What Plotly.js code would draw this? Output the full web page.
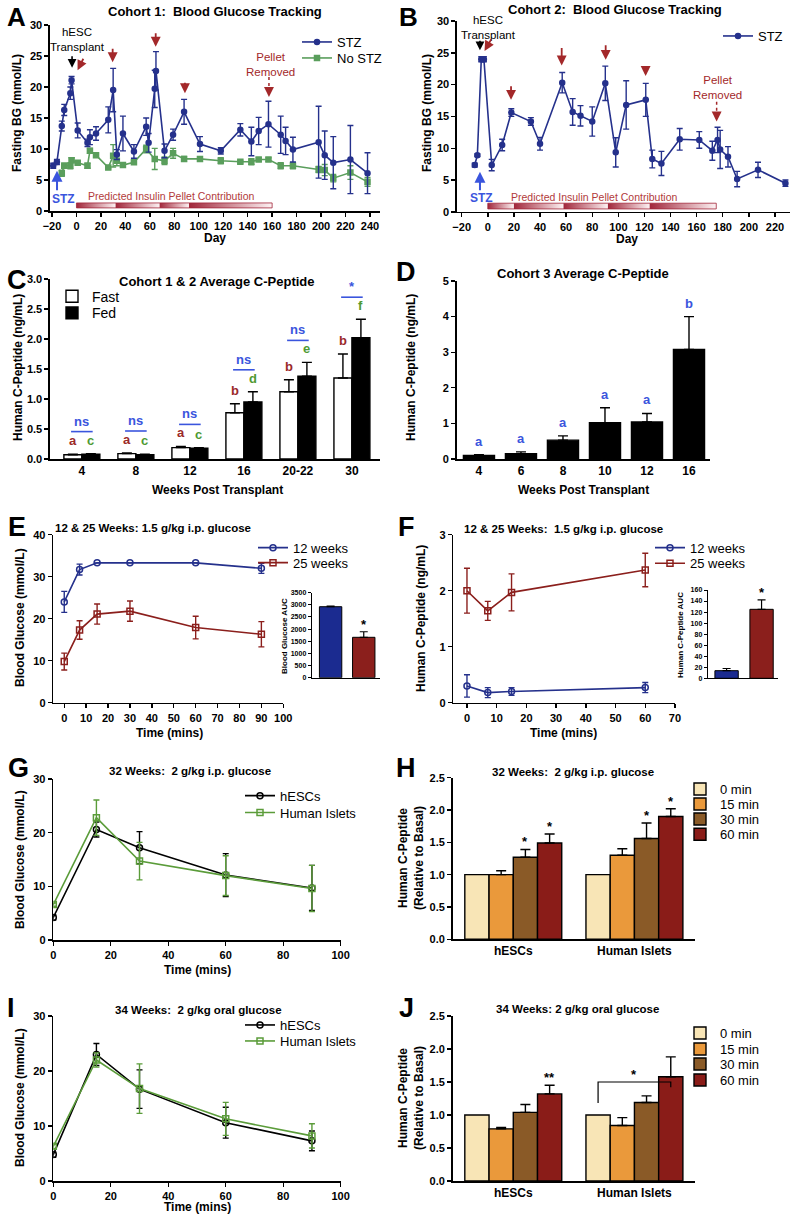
<!DOCTYPE html>
<html><head><meta charset="utf-8">
<script src="https://cdn.plot.ly/plotly-3.0.1.min.js"></script>
<style>html,body{margin:0;padding:0;background:#fff}#chart{width:794px;height:1215px}</style>
</head><body><div id="chart"></div>
<script>
// ===================== DATA =====================
// Panel A – Cohort 1
const dayA_stz = [-19,-16,-12,-10,-5,-4,1,9,11,16,26,30,33,38,47,57,59,64,65,72,79,88,101,118,134,143,149,157,167,171,177,198,203,210,224,238];
const bgA_stz  = [7.3,7.9,13.7,16.3,19.0,21.1,13.0,11.0,11.9,12.5,14.7,19.5,9.1,12.5,9.6,13.6,11.0,19.7,22.6,9.7,12.3,16.0,10.8,9.7,13.1,11.2,12.9,14.0,12.3,11.3,9.9,11.1,9.0,7.8,8.3,6.1];
const errA_stz = [0.4,0.4,0.8,0.9,1.0,0.6,1.2,0.6,1.2,1.1,2.1,3.5,0.8,2.8,1.1,1.4,1.5,3.0,3.1,1.1,0.9,2.0,1.2,0.5,1.0,2.3,2.2,3.7,3.0,2.2,2.0,5.8,3.9,4.2,5.5,3.3];
const dayA_no  = [-12,-10,-5,-4,1,9,11,16,26,30,33,38,47,57,64,72,79,88,101,118,134,143,149,157,167,177,198,203,210,224,238];
const bgA_no   = [6.1,7.3,7.3,8.2,7.8,7.3,9.7,9.0,7.0,8.9,8.1,7.4,7.85,10.0,8.4,8.1,9.3,8.4,8.4,8.1,7.95,7.95,8.3,8.3,7.3,7.3,6.7,6.6,5.3,6.2,4.7];
const errA_no  = [0.5,0.4,0.5,0.4,0.2,0.4,0.4,0.2,0.2,1.8,0.8,0.2,0.2,0.6,1.7,0.6,0.8,0.4,0.3,0.5,0.2,0.5,0.3,0.3,0.5,0.5,0.5,0.9,0.6,1.1,0.7];
const pelletA  = [0,32,68,92,160];          // pellet contribution segments (days)
// Panel B – Cohort 2
const dayB = [-10,-8,-5,-3,3,11,18,33,40,57,65,71,80,90,98,106,121,126,133,147,162,172,176,178,184,191,207,228];
const bgB  = [7.35,8.9,24.0,24.0,7.35,10.5,15.6,14.2,10.7,20.3,15.7,15.1,14.2,20.2,9.35,16.8,17.6,8.3,7.6,11.4,11.3,9.6,11.3,9.8,8.65,5.15,6.6,4.5];
const errB = [0.3,0.2,0.4,0.4,0.9,0.9,0.6,0.6,1.0,1.6,2.1,1.6,2.3,2.7,2.3,3.8,2.6,1.4,1.9,1.7,1.3,1.5,2.0,3.0,1.6,1.2,1.2,0.5];
const pelletB = [0,20,58,92,124,175];
// Panel C
const weeksC = ['4','8','12','16','20-22','30'];
const fastC = [0.07,0.09,0.19,0.77,1.12,1.35];
const fastErrC = [0.01,0.01,0.02,0.15,0.20,0.40];
const fedC = [0.08,0.07,0.18,0.95,1.38,2.02];
const fedErrC = [0.01,0.01,0.01,0.17,0.23,0.31];
const sigC = ['ns','ns','ns','ns','ns','*'];
const letFastC = ['a','a','a','b','b','b'];
const letFedC = ['c','c','c','d','e','f'];
// Panel D
const weeksD = ['4','6','8','10','12','16'];
const cpD = [0.10,0.15,0.53,1.02,1.04,3.08];
const errD = [0.02,0.05,0.12,0.42,0.24,0.92];
const letD = ['a','a','a','a','a','b'];
// Panel E
const timeE = [0,7,15,30,60,90];
const bgE12 = [24.0,31.7,33.3,33.3,33.3,32.0];
const errE12 = [2.5,1.3,0,0,0,1.2];
const bgE25 = [9.8,17.3,21.1,21.8,17.9,16.3];
const errE25 = [2.0,2.2,2.4,2.4,2.7,3.0];
const aucGroups = ['12 weeks','25 weeks'];
const aucE = [2923,1663];
const aucErrE = [30,230];
// Panel F
const timeF = [0,7,15,60];
const cpF12 = [0.30,0.18,0.20,0.27];
const errF12 = [0.20,0.09,0.07,0.09];
const cpF25 = [2.00,1.64,1.97,2.37];
const errF25 = [0.40,0.17,0.33,0.30];
const aucF = [13.8,125];
const aucErrF = [4,17];
// Panel G
const timeG = [0,15,30,60,90];
const bgG_h = [4.2,20.6,17.2,12.1,9.7];
const errG_h = [0.5,1.4,3.0,4.0,4.2];
const bgG_i = [6.6,22.8,14.7,12.0,9.6];
const errG_i = [0.3,3.3,3.5,3.7,4.3];
// Panel H
const groupsHJ = ['hESCs','Human Islets'];
const timeLabels = ['0 min','15 min','30 min','60 min'];
const H_vals = [[1.0,1.0],[1.00,1.30],[1.27,1.56],[1.49,1.90]];
const H_errs = [[0,0],[0.06,0.10],[0.12,0.24],[0.14,0.12]];
const H_sig  = [['',''],['',''],['*','*'],['*','*']];
// Panel I
const timeI = [0,15,30,60,90];
const bgI_h = [4.8,23.0,16.7,10.6,7.3];
const errI_h = [0.5,2.0,3.5,2.8,1.8];
const bgI_i = [6.3,22.0,16.8,11.3,8.2];
const errI_i = [0.4,1.3,4.5,3.0,2.2];
// Panel J
const J_vals = [[1.0,1.0],[0.79,0.84],[1.04,1.19],[1.32,1.58]];
const J_errs = [[0,0],[0.02,0.12],[0.12,0.10],[0.13,0.30]];
const J_sig  = [['',''],['',''],['',''],['**','']];

// ===================== STYLE / LAYOUT =====================
const W = 794, Hh = 1215;
const FONT = 'Liberation Sans, Arial, sans-serif';
const NAVY = '#25318c', GREEN_A = '#5a9e5c', RED = '#a3282a', BLUE_T = '#3a55dd';
const DRED = '#8b1f1c', GREEN_G = '#5b9c3a', LETRED = '#9b2a2a', LETGRN = '#4f9a33';
const timeColors = ['#f8e5b6','#ea993b','#8a5a27','#8a1c18'];
const xd = (a,b) => [a/W, b/W];
const yd = (t,b) => [1-b/Hh, 1-t/Hh];
const X = n => n===1 ? 'x' : 'x'+n;
const Y = n => n===1 ? 'y' : 'y'+n;

const layout = {
  width: W, height: Hh, margin:{l:0,r:0,t:0,b:0}, showlegend:true,
  paper_bgcolor:'#fff', plot_bgcolor:'rgba(0,0,0,0)', barmode:'overlay',
  font:{family:FONT, color:'#000'}, annotations:[], shapes:[]
};
function axis(n, xdom, ydom, xo, yo){
  const base = {showline:true, linecolor:'#000', linewidth:1.6, ticks:'outside', ticklen:4, tickwidth:1.4,
    tickcolor:'#000', showgrid:false, zeroline:false, fixedrange:true,
    tickfont:{family:FONT, size:11, color:'#000', weight:'bold'}};
  layout['xaxis'+(n===1?'':n)] = Object.assign({}, base, {domain:xd(...xdom), anchor:Y(n)}, xo);
  layout['yaxis'+(n===1?'':n)] = Object.assign({}, base, {domain:yd(...ydom), anchor:X(n)}, yo);
}
axis(1,[50,380],[25,211],{range:[-21.64,248.2],dtick:20,tick0:0},{range:[0,30],dtick:5});
axis(2,[457,790],[21,211.8],{range:[-23.6,231.5],dtick:20,tick0:0},{range:[0,30],dtick:5});
axis(3,[50,380],[279,459],{type:'category',range:[-0.59,5.52],ticks:'',tickfont:{family:FONT,size:12,weight:'bold'}},{range:[0,3],dtick:0.5,tickformat:'.1f'});
axis(4,[456.7,710],[281,459],{type:'category',range:[-0.53,5.5],ticks:'',tickfont:{family:FONT,size:12,weight:'bold'}},{range:[0,5],dtick:1});
axis(5,[53.3,283.3],[534.7,702.7],{range:[-5,100.01],dtick:10,tick0:0},{range:[0,40],dtick:10});
axis(6,[311.7,380],[592.7,677.7],{type:'category',range:[-0.57,1.49],ticks:'',showticklabels:false,linewidth:1},
     {range:[0,3500],dtick:500,linewidth:1,ticklen:3,tickwidth:1,tickfont:{family:FONT,size:7,weight:'bold'}});
axis(7,[453.3,675],[534.7,702.7],{range:[-4.6,70.01],dtick:10,tick0:0},{range:[0,3],dtick:1});
axis(8,[707.7,778],[590,678.3],{type:'category',range:[-0.54,1.47],ticks:'',showticklabels:false,linewidth:1},
     {range:[0,160],dtick:20,linewidth:1,ticklen:3,tickwidth:1,tickfont:{family:FONT,size:7,weight:'bold'}});
axis(9,[53.3,340.7],[779,940],{range:[0,100.01],dtick:20},{range:[0,30],dtick:10});
axis(10,[452.7,695],[777.7,939.3],{type:'category',range:[-0.5,1.5],ticks:'',tickfont:{family:FONT,size:12,weight:'bold'}},{range:[0,2.5],dtick:0.5,tickformat:'.1f'});
axis(11,[53.3,340.7],[1016,1181],{range:[0,100.01],dtick:20},{range:[0,30],dtick:10});
axis(12,[452.7,695],[1016,1181],{type:'category',range:[-0.5,1.5],ticks:'',tickfont:{family:FONT,size:12,weight:'bold'}},{range:[0,2.5],dtick:0.5,tickformat:'.1f'});

// one legend per entry so each entry sits exactly where the reference puts it
let legCount = 0;
function leg(textPx, centerPy, size){
  legCount++;
  const key = legCount===1 ? 'legend' : 'legend'+legCount;
  layout[key] = {x:(textPx-40)/W, y:1-centerPy/Hh, xanchor:'left', yanchor:'middle', bgcolor:'rgba(0,0,0,0)', borderwidth:0,
    font:{family:FONT, size:size||13, color:'#000'}, itemwidth:30, tracegroupgap:0};
  return key;
}

const A = layout.annotations, S = layout.shapes;
function ptxt(text, px, py, size, opts){
  A.push(Object.assign({xref:'paper', yref:'paper', x:px/W, y:1-py/Hh, text:text, showarrow:false,
    xanchor:'center', yanchor:'middle', font:{family:FONT, size:size, color:'#000', weight:'bold'}}, opts||{}));
}
function arrow(n, x, y, ax, ay, color, width){
  A.push({xref:X(n), yref:Y(n), x:x, y:y, ax:ax, ay:ay, text:'', showarrow:true, arrowhead:2,
    arrowsize:1.1, arrowwidth:width||1.8, arrowcolor:color, standoff:0});
}
function dtxt(n, x, y, text, color, size, yshift, xshift){
  A.push({xref:X(n), yref:Y(n), x:x, y:y, text:text, showarrow:false, xanchor:'center', yanchor:'bottom',
    yshift:yshift||0, xshift:xshift||0, font:{family:FONT, size:size, color:color, weight:'bold'}});
}

// ===================== TRACES =====================
const traces = [];
const BAND_A = [0.5,1.3], BAND_B = [0.45,1.35];
function pellet(breaks, n, band){
  for(let i=0;i<breaks.length-1;i++){
    const s=breaks[i], e=breaks[i+1];
    traces.push({type:'scatter', xaxis:X(n), yaxis:Y(n), x:[s,e,e,s,s], y:[band[0],band[0],band[1],band[1],band[0]],
      mode:'lines', fill:'toself', line:{width:0,color:'rgba(0,0,0,0)'},
      fillgradient:{type:'horizontal', colorscale:[[0,'#a1263a'],[1,'#fdf3f4']]}, showlegend:false, hoverinfo:'skip'});
  }
  const s=breaks[0], e=breaks[breaks.length-1];
  traces.push({type:'scatter', xaxis:X(n), yaxis:Y(n), x:[s,e,e,s,s], y:[band[0],band[0],band[1],band[1],band[0]],
    mode:'lines', line:{color:'#a1263a', width:0.8}, showlegend:false, hoverinfo:'skip'});
}
function lineTrace(n, x, y, err, name, color, symbol, size, legend){
  return {type:'scatter', xaxis:X(n), yaxis:Y(n), x:x, y:y, name:name, mode:'lines+markers',
    line:{color:color, width:1.6}, marker:{symbol:symbol, size:size, color:color, line:{color:color,width:1.5}},
    error_y:{type:'data', array:err, visible:true, color:color, thickness:1.4, width:3},
    legend:legend, hoverinfo:'skip'};
}
function barTrace(n, x, y, err, name, color, width, offset, legend, lineW){
  const t = {type:'bar', xaxis:X(n), yaxis:Y(n), x:x, y:y, name:name, width:width,
    marker:{color:color, line:{color:'#000', width:lineW==null?1.4:lineW}},
    error_y:{type:'data', symmetric:false, array:err, arrayminus:err.map(()=>0), visible:true, color:'#000', thickness:1.4, width:5},
    hoverinfo:'skip', showlegend:!!legend};
  if(offset!=null) t.offset = offset;
  if(legend) t.legend = legend;
  return t;
}

// A
pellet(pelletA, 1, BAND_A);
const legA1 = leg(337, 42), legA2 = leg(337, 58);
traces.push(lineTrace(1, dayA_no, bgA_no, errA_no, 'No STZ', GREEN_A, 'square', 5, legA2));
traces.push(lineTrace(1, dayA_stz, bgA_stz, errA_stz, 'STZ', NAVY, 'circle', 5, legA1));
// B
pellet(pelletB, 2, BAND_B);
traces.push(lineTrace(2, dayB, bgB, errB, 'STZ', NAVY, 'circle', 5, leg(758, 36)));
// C
traces.push(barTrace(3, weeksC, fastC, fastErrC, 'Fast', '#fff', 0.333, -0.333, leg(92, 296.7, 14)));
traces.push(barTrace(3, weeksC, fedC, fedErrC, 'Fed', '#000', 0.333, 0, leg(92, 313.3, 14)));
// D
traces.push(barTrace(4, weeksD, cpD, errD, 'Cohort 3', '#000', 0.74, null, null));
// E
traces.push(lineTrace(5, timeE, bgE12, errE12, '12 weeks', NAVY, 'circle-open', 6, leg(293, 547.7)));
traces.push(lineTrace(5, timeE, bgE25, errE25, '25 weeks', DRED, 'square-open', 6, leg(293, 562.7)));
traces.push(Object.assign(barTrace(6, aucGroups, aucE, aucErrE, 'AUC', ['#1b2b90', DRED], 0.675, null, null, 1),
  {error_y:{type:'data', symmetric:false, array:aucErrE, arrayminus:[0,0], color:'#000', thickness:1.2, width:4}}));
// F
traces.push(lineTrace(7, timeF, cpF12, errF12, '12 weeks', NAVY, 'circle-open', 6, leg(690, 547.7)));
traces.push(lineTrace(7, timeF, cpF25, errF25, '25 weeks', DRED, 'square-open', 6, leg(690, 563.3)));
traces.push(Object.assign(barTrace(8, aucGroups, aucF, aucErrF, 'AUC', ['#1b2b90', DRED], 0.667, null, null, 1),
  {error_y:{type:'data', symmetric:false, array:aucErrF, arrayminus:[0,0], color:'#000', thickness:1.2, width:4}}));
// G
traces.push(lineTrace(9, timeG, bgG_h, errG_h, 'hESCs', '#000', 'circle-open', 6, leg(280, 795.7)));
traces.push(lineTrace(9, timeG, bgG_i, errG_i, 'Human Islets', GREEN_G, 'square-open', 6, leg(280, 812.5)));
// H & J
function groupBars(n, vals, errs, legY){
  for(let k=0;k<4;k++){
    const t = barTrace(n, groupsHJ, vals[k], errs[k], timeLabels[k], timeColors[k], 0.2, -0.4+0.2*k, leg(720, legY[k]));
    if(k===0) t.error_y = {visible:false};
    traces.push(t);
  }
}
groupBars(10, H_vals, H_errs, [789, 804, 819, 834.3]);
// I
traces.push(lineTrace(11, timeI, bgI_h, errI_h, 'hESCs', '#000', 'circle-open', 6, leg(280, 1025)));
traces.push(lineTrace(11, timeI, bgI_i, errI_i, 'Human Islets', GREEN_G, 'square-open', 6, leg(280, 1041)));
groupBars(12, J_vals, J_errs, [1033, 1049, 1064, 1080]);

// ===================== TEXT =====================
ptxt('A', 16, 0, 26, {yanchor:'top'});
ptxt('B', 408, 0, 26, {yanchor:'top'});
[['C',17,280],['D',406,272],['E',17,527],['F',406,527],['G',18,768],['H',406,768],['I',11,1008],['J',406,1008]]
  .forEach(l => ptxt(l[0], l[1], l[2], 27));
ptxt('Cohort 1:  Blood Glucose Tracking', 215, 12, 13);
ptxt('Cohort 2:  Blood Glucose Tracking', 615, 10, 13);
ptxt('Cohort 1 &amp; 2 Average C-Peptide', 217, 282, 13);
ptxt('Cohort 3 Average C-Peptide', 583, 273, 13);
ptxt('12 &amp; 25 Weeks: 1.5 g/kg i.p. glucose', 153, 528, 11.5);
ptxt('12 &amp; 25 Weeks:  1.5 g/kg i.p. glucose', 563, 529, 11.5);
ptxt('32 Weeks:  2 g/kg i.p. glucose', 190, 771, 11.5);
ptxt('32 Weeks:  2 g/kg i.p. glucose', 573, 772, 11.5);
ptxt('34 Weeks:  2 g/kg oral glucose', 198, 1010, 11.5);
ptxt('34 Weeks: 2 g/kg oral glucose', 577, 1009, 11.5);
const rot = {textangle:-90};
ptxt('Day', 215, 238, 12); ptxt('Day', 627, 239, 12);
ptxt('Fasting BG (mmol/L)', 17, 113, 12, rot); ptxt('Fasting BG (mmol/L)', 427, 113, 12, rot);
ptxt('Weeks Post Transplant', 217, 490, 12); ptxt('Weeks Post Transplant', 583, 490, 12);
ptxt('Human C-Peptide (ng/mL)', 18, 368, 12, rot); ptxt('Human C-Peptide (ng/mL)', 411, 368, 12, rot);
ptxt('Time (mins)', 169, 733, 12); ptxt('Time (mins)', 563, 733, 12);
ptxt('Blood Glucose (mmol/L)', 20, 618, 12, rot); ptxt('Human C-Peptide (ng/mL)', 421, 618, 12, rot);
ptxt('Blood Glucose AUC', 284, 636, 8, rot); ptxt('Human C-Peptide AUC', 681, 635, 8, rot);
ptxt('Time (mins)', 197, 970, 12); ptxt('Blood Glucose (mmol/L)', 20, 860, 12, rot);
ptxt('Human C-Peptide<br>(Relative to Basal)', 411, 858, 12, rot);
ptxt('Time (mins)', 197, 1207, 12); ptxt('Blood Glucose (mmol/L)', 20, 1098, 12, rot);
ptxt('Human C-Peptide<br>(Relative to Basal)', 411, 1098, 12, rot);

// A annotations
const reg = c => ({font:{family:FONT, size:11.5, color:c, weight:'normal'}});
ptxt('hESC<br>Transplant', 77, 39.5, 11.5, reg('#000'));
arrow(1, -3.6, 23.1, 0, -13, '#000', 1.6);
arrow(1, 0.9, 22.7, 6.5, -13, RED);
arrow(1, 29.6, 24.0, 0, -15, RED); arrow(1, 64.8, 26.5, 0, -15, RED); arrow(1, 88.7, 19.0, 0, -12, RED);
ptxt('Pellet<br>Removed', 270, 64.5, 11.5, reg(RED));
S.push({type:'line', xref:'x', yref:'y', x0:157.4, x1:157.4, y0:21.6, y1:19.3, line:{color:RED, width:1.5, dash:'dot'}});
arrow(1, 157.4, 18.4, 0, -6, RED);
arrow(1, -15.9, 6.5, 0, 21, BLUE_T, 2);
ptxt('STZ', 63, 199, 12, {font:{family:FONT,size:12,color:BLUE_T,weight:'bold'}});
ptxt('Predicted Insulin Pellet Contribution', 171, 196, 10.5, {font:{family:FONT,size:10.5,color:'#b23a3a',weight:'normal'}});
// B annotations
ptxt('hESC<br>Transplant', 488, 27, 11.5, reg('#000'));
arrow(2, -6, 25.4, 0, -11, '#000', 1.6);
arrow(2, -2.5, 25.3, 7.5, -13, RED);
arrow(2, 17.8, 17.6, 0, -15, RED); arrow(2, 56.6, 23.0, 0, -19, RED);
arrow(2, 90.3, 23.9, 0, -16, RED); arrow(2, 120.9, 21.35, 0, -11, RED);
ptxt('Pellet<br>Removed', 717, 87, 11.5, reg(RED));
S.push({type:'line', xref:'x2', yref:'y2', x0:175.3, x1:175.3, y0:17.3, y1:15.1, line:{color:RED, width:1.5, dash:'dot'}});
arrow(2, 175.3, 14.2, 0, -6, RED);
arrow(2, -6, 6.3, 0, 20, BLUE_T, 2);
ptxt('STZ', 481, 198, 12, {font:{family:FONT,size:12,color:BLUE_T,weight:'bold'}});
ptxt('Predicted Insulin Pellet Contribution', 594, 197, 10.5, {font:{family:FONT,size:10.5,color:'#b23a3a',weight:'normal'}});

// C significance
weeksC.forEach((w,i) => {
  const tf = fastC[i]+fastErrC[i], td = fedC[i]+fedErrC[i], top = Math.max(tf, td);
  dtxt(3, i-0.165, tf, letFastC[i], LETRED, 13, 4);
  dtxt(3, i+0.165, td, letFedC[i], LETGRN, 13, 4);
  S.push({type:'line', xref:'x3', yref:'y3', ysizemode:'pixel', yanchor:top, y0:22, y1:22,
    x0:i-0.2, x1:i+0.2, line:{color:BLUE_T, width:1.6}});
  dtxt(3, i, top, sigC[i], BLUE_T, 13, 23);
});
weeksD.forEach((w,i) => dtxt(4, i, cpD[i]+errD[i], letD[i], BLUE_T, 13, 4));
dtxt(6, 1, aucE[1]+aucErrE[1], '*', '#000', 13, -2);
dtxt(8, 1, aucF[1]+aucErrF[1], '*', '#000', 13, -2);
function stars(n, vals, errs, sig){
  for(let k=0;k<4;k++) for(let g=0;g<2;g++){
    if(sig[k][g]) dtxt(n, g-0.3+0.2*k, vals[k][g]+errs[k][g], sig[k][g], '#000', 13, -2);
  }
}
stars(10, H_vals, H_errs, H_sig);
stars(12, J_vals, J_errs, J_sig);
// J bracket (Human Islets comparison)
S.push({type:'path', xref:'x12', yref:'y12', path:'M0.7,1.18 L0.7,1.5 L1.3,1.5 L1.3,1.42', line:{color:'#000', width:1.2}});
dtxt(12, 1.0, 1.5, '*', '#000', 13, -2);

Plotly.newPlot('chart', traces, layout, {staticPlot:true});
</script></body></html>
